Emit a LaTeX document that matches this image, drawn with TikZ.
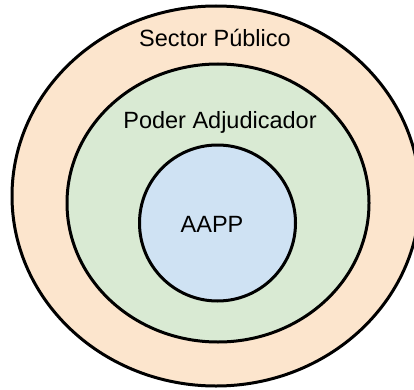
\documentclass[tikz,border=0pt]{standalone}
\usepackage{fontspec}
\setmainfont{Liberation Sans}
\definecolor{peach}{HTML}{FCE5CD}
\definecolor{lgreen}{HTML}{D9EAD3}
\definecolor{lblue}{HTML}{CFE2F3}
\tikzset{
  ring/.style={draw=black, line width=3pt},
  lbl/.style={anchor=base, inner sep=0pt, font=\fontsize{23.5}{28}\selectfont}
}
\begin{document}
\begin{tikzpicture}[x=1pt,y=1pt]
\useasboundingbox (0,0) rectangle (414,389);
\clip (0,0) rectangle (414,389);
\fill[white] (0,0) rectangle (414,389);
\draw[ring, fill=peach] (216,193) ellipse [x radius=204, y radius=190];
\draw[ring, fill=lgreen] (218,186) ellipse [x radius=151, y radius=139];
\draw[ring, fill=lblue] (217.5,166) circle [radius=78];
\node[lbl] (sp) at (215,342.3) {Sector Público};
\node[lbl] (pa) at (220,261) {Poder Adjudicador};
\node[lbl] (aapp) at (212,156.7) {AAPP};
\end{tikzpicture}
\end{document}
